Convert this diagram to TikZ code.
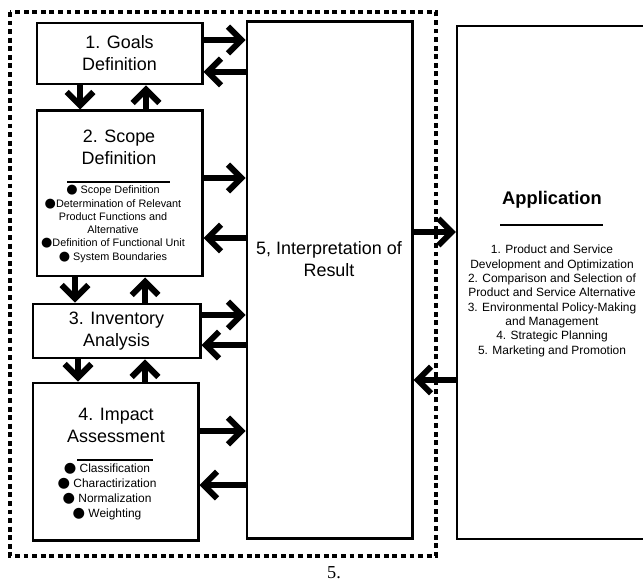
\documentclass[tikz,border=0pt]{standalone}
\usepackage{fontspec}
\setmainfont{Liberation Sans}
\newfontfamily\capfont{Liberation Serif}
\newfontfamily\dotfont{DejaVu Sans}[Scale=1.2]
\usetikzlibrary{arrows.meta, positioning}
\newcommand{\dotitem}{{\dotfont\char"25CF}}
\tikzset{%
>={Straight Barb[length=9.5pt,width=19pt]},
  % Specifications for style of nodes:
            box/.style = {rectangle, draw=black, line width=2.1pt,
                            fill=white, inner sep=0pt},
            title/.style = {font=\fontsize{12.75}{15.6}\selectfont,
                            align=center, inner sep=0pt},
            items/.style = {font=\fontsize{7.7}{9.4}\selectfont,
                            align=center, inner sep=0pt},
            flow/.style = {->, line width=4.2pt},
            frame/.style = {line width=2.6pt, dash pattern=on 3.5pt off 2.6pt},
            rulebar/.style = {line width=0.8pt}
}
\begin{document}
\begin{tikzpicture}[x=0.025cm, y=-0.025cm]
                        \useasboundingbox (0,0) rectangle (643,583);
                        \clip (0,0) rectangle (643,583);
                        \draw[frame] (10,12) rectangle (436,556);
                        % the four phases
                        \node[box, title, minimum width=4.125cm, minimum height=1.525cm] (goals) at (119.5,53.5) {1. Goals\\Definition};
                        \node[box, minimum width=4.125cm, minimum height=4.125cm] (scope) at (119.5,193.5) {};
                        \node[box, title, minimum width=4.175cm, minimum height=1.35cm] (inv) at (116.5,331) {3. Inventory\\Analysis};
                        \node[box, minimum width=4.125cm, minimum height=3.925cm] (impact) at (115.5,461.5) {};
                        \node[box, minimum width=4.125cm, minimum height=12.9cm] (interp) at (329.5,280) {};
                        \node[box, line width=1.4pt, minimum width=4.75cm, minimum height=12.825cm] (app) at (552,282.5) {};
                        % texts inside the boxes
                        \node[title] (scopett) at (119,147) {2. Scope\\Definition};
                        \draw[rulebar] (67,182) -- (170,182);
                        \node[items] (scopels) at (113,224) {\dotitem\ Scope Definition\\
                            \dotitem Determination of Relevant\\Product Functions and\\Alternative\\
                            \dotitem Definition of Functional Unit\\\dotitem\ System Boundaries};
                        \node[title] (impacttt) at (116,425) {4. Impact\\Assessment};
                        \draw[rulebar] (77,460) -- (153,460);
                        \node[items, font=\fontsize{8.5}{10.6}\selectfont] (impactls) at (107,492) {\dotitem\ Classification\\
                            \dotitem\ Charactirization\\\dotitem\ Normalization\\\dotitem\ Weighting};
                        \node[title] (interptt) at (329,259) {5, Interpretation of\\Result};
                        \node[title, font=\fontsize{13}{15.6}\selectfont\bfseries] (apptt) at (552,200) {Application};
                        \draw[rulebar] (500,225) -- (603,225);
                        \node[items, font=\fontsize{8.5}{10.2}\selectfont] (appls) at (552,301) {1. Product and Service\\
                            Development and Optimization\\2. Comparison and Selection of\\
                            Product and Service Alternative\\3. Environmental Policy-Making\\
                            and Management\\4. Strategic Planning\\5. Marketing and Promotion};
                        % arrows between the phases
                        \draw[flow] (goals.south -| 80,0) -- (scope.north -| 80,0);
                        \draw[flow] (scope.north -| 146,0) -- (goals.south -| 146,0);
                        \draw[flow] (scope.south -| 75,0) -- (inv.north -| 75,0);
                        \draw[flow] (inv.north -| 145,0) -- (scope.south -| 145,0);
                        \draw[flow] (inv.south -| 78,0) -- (impact.north -| 78,0);
                        \draw[flow] (impact.north -| 145,0) -- (inv.south -| 145,0);
                        \draw[flow] (goals.east |- 0,40) -- (interp.west |- 0,40);
                        \draw[flow] (interp.west |- 0,72) -- (goals.east |- 0,72);
                        \draw[flow] (scope.east |- 0,178) -- (interp.west |- 0,178);
                        \draw[flow] (interp.west |- 0,238) -- (scope.east |- 0,238);
                        \draw[flow] (inv.east |- 0,315) -- (interp.west |- 0,315);
                        \draw[flow] (interp.west |- 0,345) -- (inv.east |- 0,345);
                        \draw[flow] (impact.east |- 0,431) -- (interp.west |- 0,431);
                        \draw[flow] (interp.west |- 0,485) -- (impact.east |- 0,485);
                        \draw[flow] (interp.east |- 0,232) -- (app.west |- 0,232);
                        \draw[flow] (app.west |- 0,380) -- (interp.east |- 0,380);
                        \node[font=\capfont\fontsize{13}{15}\selectfont] (fignum) at (334,573) {5.};
                    \end{tikzpicture}
\end{document}
